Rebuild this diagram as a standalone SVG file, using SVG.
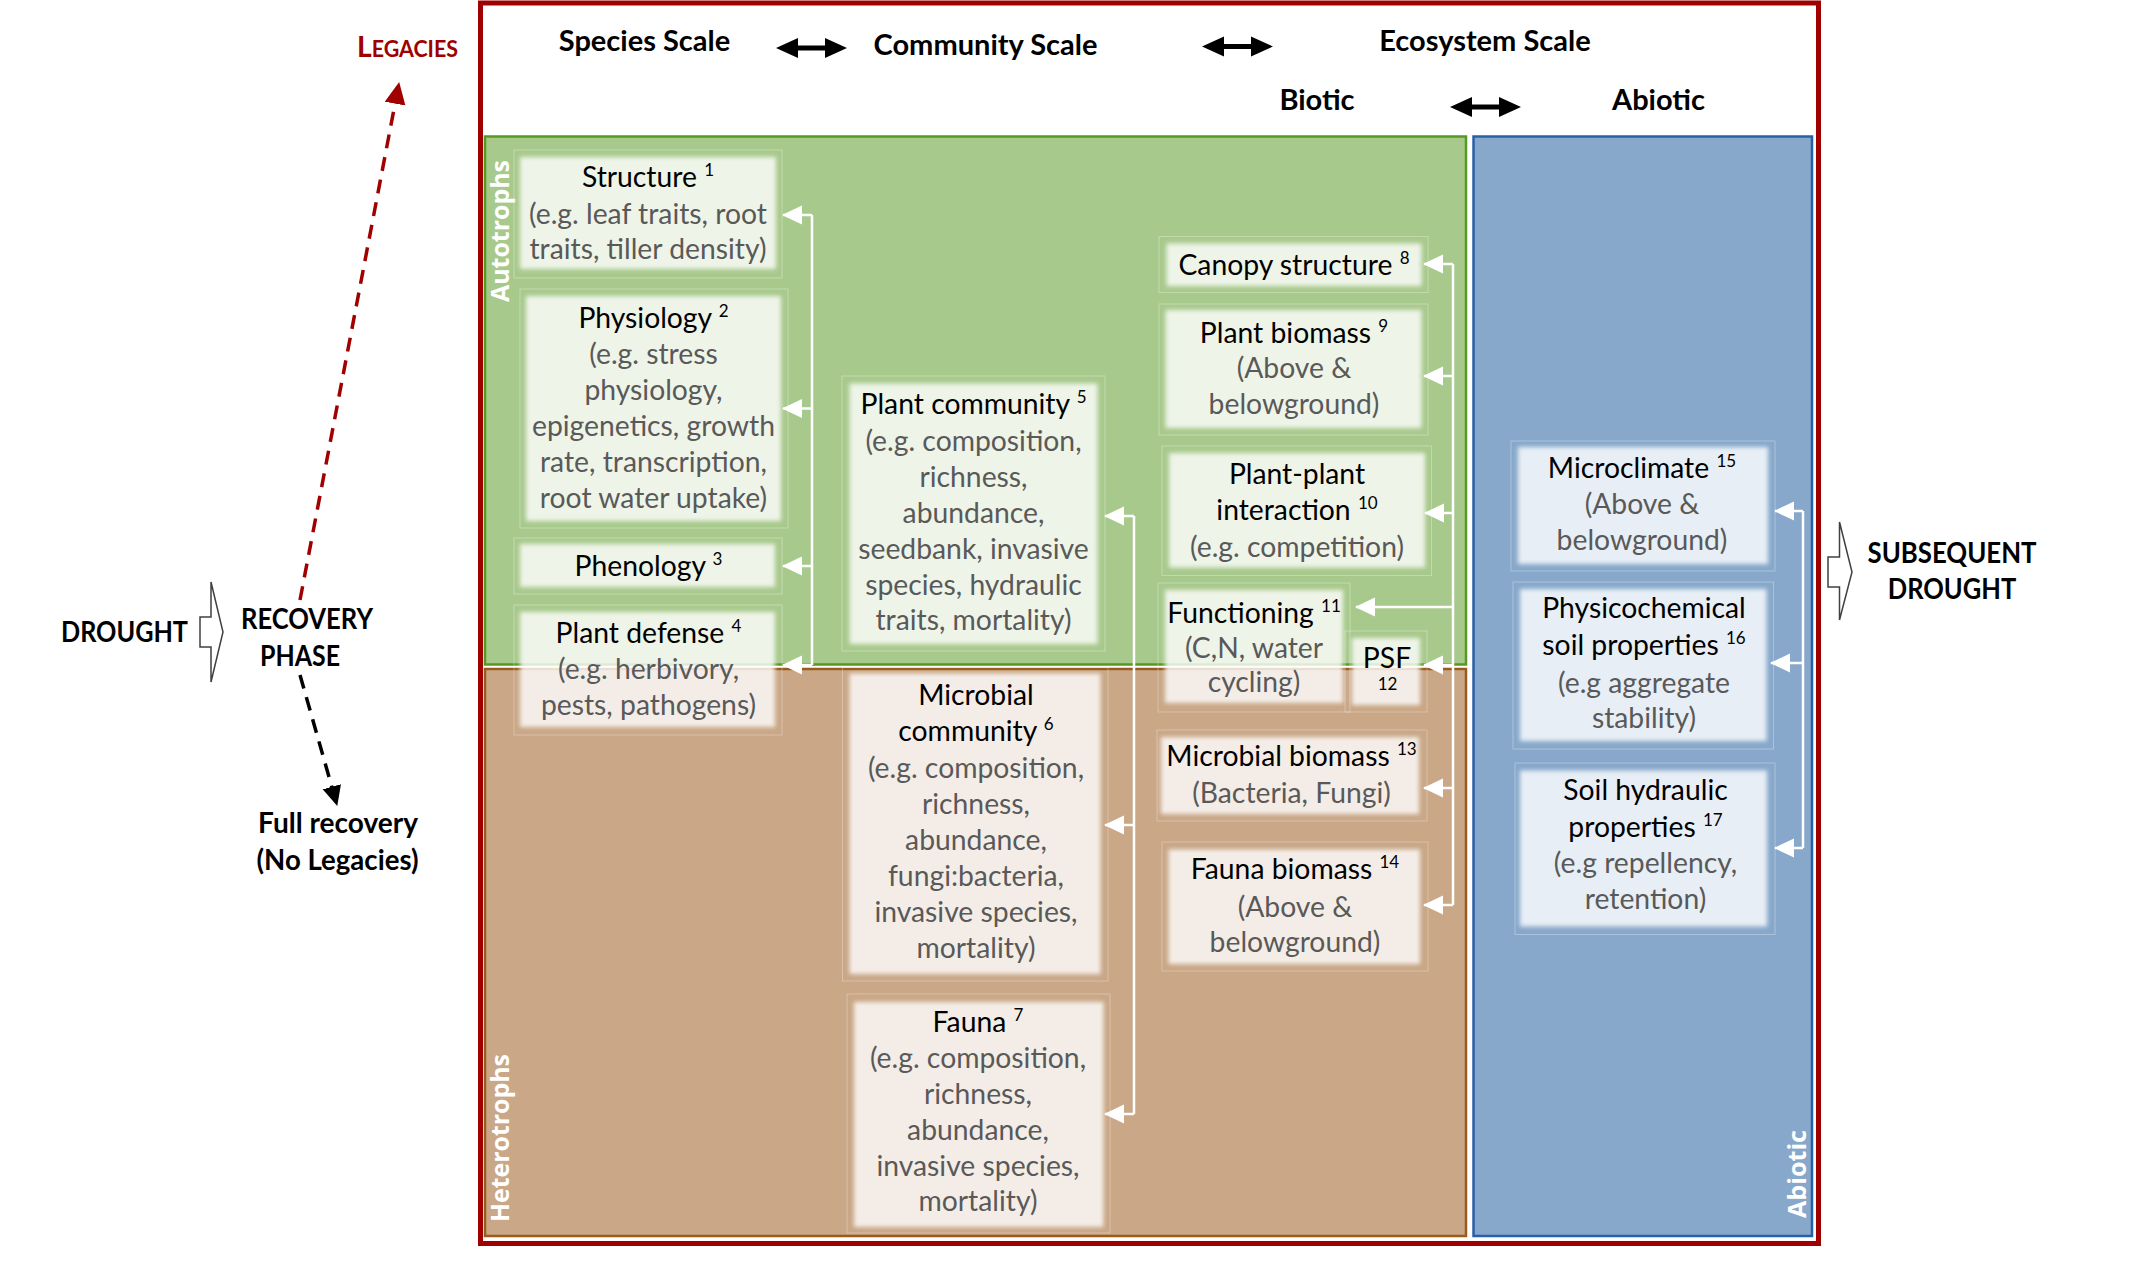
<svg xmlns="http://www.w3.org/2000/svg" width="2146" height="1265" viewBox="0 0 2146 1265">
<style>
text{font-family:Lato,"Liberation Sans",sans-serif;}
.t{font-size:28.3px;text-anchor:middle;fill:#000;}
.g{fill:#595959;}
.sup{font-size:17px;fill:#000;}
.b{font-weight:700;font-size:29px;fill:#000;}
.m{text-anchor:middle;}
.side{font-family:"Open Sans","DejaVu Sans",sans-serif;font-weight:700;font-size:25px;fill:#fff;text-anchor:middle;}
.box{fill:#fff;fill-opacity:0.8;filter:url(#soft);}
.frame{fill:none;stroke:#fff;stroke-opacity:0.3;stroke-width:1;}
.conn{fill:none;stroke:#fff;stroke-width:2.5;}
.arr{fill:none;stroke:#fff;stroke-width:2.5;marker-end:url(#ah);}
.blk{fill:#fff;stroke:#404040;stroke-width:1.5;}
.dbl{fill:#000;}
</style>
<defs>
<filter id="soft" x="-20%" y="-20%" width="140%" height="140%"><feGaussianBlur stdDeviation="2.2"/></filter>
<marker id="ah" markerUnits="userSpaceOnUse" markerWidth="20" markerHeight="20" viewBox="0 0 20 20" refX="19" refY="10" orient="auto"><path d="M0,0.5 L20,10 L0,19.5 z" fill="#fff"/></marker>
<marker id="ahRed" markerUnits="userSpaceOnUse" markerWidth="22" markerHeight="22" viewBox="0 0 22 22" refX="21" refY="11" orient="auto"><path d="M0,0.5 L22,11 L0,21.5 z" fill="#A00000"/></marker>
<marker id="ahBlk" markerUnits="userSpaceOnUse" markerWidth="20" markerHeight="20" viewBox="0 0 20 20" refX="19" refY="10" orient="auto"><path d="M0,0.5 L20,10 L0,19.5 z" fill="#000"/></marker>
</defs>
<rect width="2146" height="1265" fill="#fff"/>

<g id="frame">
<rect x="480.5" y="3" width="1338" height="1240.5" fill="#fff" stroke="#A00000" stroke-width="5"/>
<rect x="485" y="136.5" width="981" height="528" fill="#A8C98C" stroke="#559A1E" stroke-width="2.5"/>
<rect x="485" y="669" width="981" height="567" fill="#C9A787" stroke="#9A5B1C" stroke-width="2.5"/>
<rect x="1473.5" y="136.5" width="338.5" height="1099.5" fill="#87A8CB" stroke="#2860A8" stroke-width="2.5"/>
<text class="side" textLength="142" lengthAdjust="spacingAndGlyphs" transform="translate(509,231) rotate(-90)">Autotrophs</text>
<text class="side" textLength="168" lengthAdjust="spacingAndGlyphs" transform="translate(509,1138) rotate(-90)">Heterotrophs</text>
<text class="side" textLength="88" lengthAdjust="spacingAndGlyphs" transform="translate(1806,1174) rotate(-90)">Abiotic</text>
</g>

<g id="header">
<text class="b m" x="644.5" y="51">Species Scale</text>
<text class="b m" x="985.5" y="55">Community Scale</text>
<text class="b m" x="1485" y="51">Ecosystem Scale</text>
<text class="b m" x="1317" y="110">Biotic</text>
<text class="b m" x="1658.5" y="110">Abiotic</text>
<polygon class="dbl" points="776,48 798,38 798,45.5 825,45.5 825,38 847,48 825,58 825,50.5 798,50.5 798,58"/>
<polygon class="dbl" points="1202,46.5 1224,36.5 1224,44 1251,44 1251,36.5 1273,46.5 1251,56.5 1251,49 1224,49 1224,56.5"/>
<polygon class="dbl" points="1450,107 1472,97 1472,104.5 1499,104.5 1499,97 1521,107 1499,117 1499,109.5 1472,109.5 1472,117"/>
</g>

<g id="phase">
<text x="357" y="57" font-weight="700" fill="#A00000" textLength="101" lengthAdjust="spacingAndGlyphs"><tspan font-size="29">L</tspan><tspan font-size="22">EGACIES</tspan></text>
<text class="b m" x="124.5" y="641.5" textLength="127" lengthAdjust="spacingAndGlyphs">DROUGHT</text>
<polygon class="blk" points="200,617 211,617 211,582 223,632 211,682 211,647 200,647"/>
<text class="b m" x="307" y="629" textLength="132" lengthAdjust="spacingAndGlyphs">RECOVERY</text>
<text class="b m" x="300" y="666" textLength="80" lengthAdjust="spacingAndGlyphs">PHASE</text>
<text class="b m" x="338" y="833" textLength="160" lengthAdjust="spacingAndGlyphs">Full recovery</text>
<text class="b m" x="337.5" y="870" textLength="162" lengthAdjust="spacingAndGlyphs">(No Legacies)</text>
<polygon class="blk" points="1828,557 1839.5,557 1839.5,522 1852,572 1839.5,620 1839.5,587 1828,587"/>
<text class="b m" x="1952" y="562.5" textLength="169" lengthAdjust="spacingAndGlyphs">SUBSEQUENT</text>
<text class="b m" x="1952" y="599" textLength="128.5" lengthAdjust="spacingAndGlyphs">DROUGHT</text>
</g>

<g id="n1">
<rect class="frame" x="514" y="150" width="268" height="128"/>
<rect class="box" x="520" y="157" width="256" height="112"/>
<text class="t" x="648" y="187">Structure <tspan class="sup" dy="-11">1</tspan></text>
<text class="t g" x="648" y="223.5">(e.g. leaf traits, root</text>
<text class="t g" x="648" y="259">traits, tiller density)</text>
</g>
<g id="n2">
<rect class="frame" x="520" y="289" width="268" height="239"/>
<rect class="box" x="526" y="296" width="255" height="225"/>
<text class="t" x="653.5" y="328">Physiology <tspan class="sup" dy="-11">2</tspan></text>
<text class="t g" x="653.5" y="364">(e.g. stress</text>
<text class="t g" x="653.5" y="400">physiology,</text>
<text class="t g" x="653.5" y="436">epigenetics, growth</text>
<text class="t g" x="653.5" y="472">rate, transcription,</text>
<text class="t g" x="653.5" y="508">root water uptake)</text>
</g>
<g id="n3">
<rect class="frame" x="514" y="538" width="268" height="56"/>
<rect class="box" x="520" y="544" width="255" height="43"/>
<text class="t" x="648.5" y="576">Phenology <tspan class="sup" dy="-11">3</tspan></text>
</g>
<g id="n4">
<rect class="frame" x="514" y="605" width="268" height="130"/>
<rect class="box" x="520" y="612" width="255" height="115"/>
<text class="t" x="648.5" y="642.5">Plant defense <tspan class="sup" dy="-11">4</tspan></text>
<text class="t g" x="648.5" y="679">(e.g. herbivory,</text>
<text class="t g" x="648.5" y="715">pests, pathogens)</text>
</g>
<g id="n5">
<rect class="frame" x="842" y="376" width="263" height="275"/>
<rect class="box" x="849.5" y="383.5" width="248" height="260.5"/>
<text class="t" x="973.5" y="414">Plant community <tspan class="sup" dy="-11">5</tspan></text>
<text class="t g" x="973.5" y="450.5">(e.g. composition,</text>
<text class="t g" x="973.5" y="486.5">richness,</text>
<text class="t g" x="973.5" y="522.5">abundance,</text>
<text class="t g" x="973.5" y="558.5">seedbank, invasive</text>
<text class="t g" x="973.5" y="594.5">species, hydraulic</text>
<text class="t g" x="973.5" y="630">traits, mortality)</text>
</g>
<g id="n6">
<rect class="frame" x="842.5" y="667.5" width="265.5" height="313.5"/>
<rect class="box" x="849.5" y="673.5" width="251" height="300.5"/>
<text class="t" x="976" y="705">Microbial</text>
<text class="t" x="976" y="741">community <tspan class="sup" dy="-11">6</tspan></text>
<text class="t g" x="976" y="778">(e.g. composition,</text>
<text class="t g" x="976" y="814">richness,</text>
<text class="t g" x="976" y="850">abundance,</text>
<text class="t g" x="976" y="886">fungi:bacteria,</text>
<text class="t g" x="976" y="922">invasive species,</text>
<text class="t g" x="976" y="958">mortality)</text>
</g>
<g id="n7">
<rect class="frame" x="847" y="994" width="263" height="239"/>
<rect class="box" x="854" y="1002" width="249.5" height="225"/>
<text class="t" x="978" y="1031.5">Fauna <tspan class="sup" dy="-11">7</tspan></text>
<text class="t g" x="978" y="1068">(e.g. composition,</text>
<text class="t g" x="978" y="1104">richness,</text>
<text class="t g" x="978" y="1140">abundance,</text>
<text class="t g" x="978" y="1176">invasive species,</text>
<text class="t g" x="978" y="1211">mortality)</text>
</g>
<g id="n8">
<rect class="frame" x="1159" y="236.5" width="269" height="56"/>
<rect class="box" x="1166.5" y="243.5" width="255" height="42.5"/>
<text class="t" x="1294" y="274.5">Canopy structure <tspan class="sup" dy="-11">8</tspan></text>
</g>
<g id="n9">
<rect class="frame" x="1159" y="304" width="269" height="131"/>
<rect class="box" x="1165.5" y="310" width="256" height="118"/>
<text class="t" x="1294" y="342.5">Plant biomass <tspan class="sup" dy="-11">9</tspan></text>
<text class="t g" x="1294" y="378">(Above &amp;</text>
<text class="t g" x="1294" y="414">belowground)</text>
</g>
<g id="n10">
<rect class="frame" x="1162" y="446" width="269.5" height="129.5"/>
<rect class="box" x="1169" y="453" width="256" height="114.5"/>
<text class="t" x="1297" y="483.5">Plant-plant</text>
<text class="t" x="1297" y="520">interaction <tspan class="sup" dy="-11">10</tspan></text>
<text class="t g" x="1297" y="556.5">(e.g. competition)</text>
</g>
<g id="n11">
<rect class="frame" x="1158" y="583" width="192" height="129"/>
<rect class="box" x="1165" y="590" width="178" height="113"/>
<text class="t" x="1254" y="623">Functioning <tspan class="sup" dy="-11">11</tspan></text>
<text class="t g" x="1254" y="658">(C,N, water</text>
<text class="t g" x="1254" y="692">cycling)</text>
</g>
<g id="n12">
<rect class="frame" x="1345" y="631" width="82" height="81"/>
<rect class="box" x="1352" y="638" width="68" height="67"/>
<text class="t" x="1387" y="668">PSF</text>
<text class="t sup" x="1387.5" y="690">12</text>
</g>
<g id="n13">
<rect class="frame" x="1157" y="730" width="270" height="91"/>
<rect class="box" x="1161" y="737" width="258" height="77"/>
<text class="t" x="1291.5" y="765.5">Microbial biomass <tspan class="sup" dy="-11">13</tspan></text>
<text class="t g" x="1291.5" y="803">(Bacteria, Fungi)</text>
</g>
<g id="n14">
<rect class="frame" x="1162" y="842" width="266" height="129"/>
<rect class="box" x="1168.5" y="849.5" width="251.5" height="114.5"/>
<text class="t" x="1295" y="879">Fauna biomass <tspan class="sup" dy="-11">14</tspan></text>
<text class="t g" x="1295" y="916.5">(Above &amp;</text>
<text class="t g" x="1295" y="952">belowground)</text>
</g>
<g id="n15">
<rect class="frame" x="1511" y="441" width="264" height="130"/>
<rect class="box" x="1518" y="447" width="250" height="117"/>
<text class="t" x="1642" y="478">Microclimate <tspan class="sup" dy="-11">15</tspan></text>
<text class="t g" x="1642" y="514">(Above &amp;</text>
<text class="t g" x="1642" y="549.5">belowground)</text>
</g>
<g id="n16">
<rect class="frame" x="1513" y="582" width="260.5" height="167"/>
<rect class="box" x="1520" y="589" width="246.5" height="152"/>
<text class="t" x="1644" y="618">Physicochemical</text>
<text class="t" x="1644" y="655">soil properties <tspan class="sup" dy="-11">16</tspan></text>
<text class="t g" x="1644" y="693">(e.g aggregate</text>
<text class="t g" x="1644" y="728">stability)</text>
</g>
<g id="n17">
<rect class="frame" x="1515" y="763" width="260" height="171.5"/>
<rect class="box" x="1520" y="770.5" width="247" height="156"/>
<text class="t" x="1645.5" y="800">Soil hydraulic</text>
<text class="t" x="1645.5" y="836.5">properties <tspan class="sup" dy="-11">17</tspan></text>
<text class="t g" x="1645.5" y="873">(e.g repellency,</text>
<text class="t g" x="1645.5" y="909">retention)</text>
</g>

<g id="connectors">
<path class="conn" d="M812,215 V665"/>
<path class="arr" d="M812,215 H783"/>
<path class="arr" d="M812,408.5 H783"/>
<path class="arr" d="M812,566 H783"/>
<path class="arr" d="M812,665 H783"/>
<path class="conn" d="M1134,516 V1114"/>
<path class="arr" d="M1134,516 H1105"/>
<path class="arr" d="M1134,825 H1105"/>
<path class="arr" d="M1134,1114 H1105"/>
<path class="conn" d="M1453,264 V905"/>
<path class="arr" d="M1453,264 H1424"/>
<path class="arr" d="M1453,376 H1424"/>
<path class="arr" d="M1453,513 H1425"/>
<path class="arr" d="M1453,607 H1356"/>
<path class="arr" d="M1453,665 H1424"/>
<path class="arr" d="M1453,788 H1424"/>
<path class="arr" d="M1453,905 H1424"/>
<path class="conn" d="M1803,511 V848"/>
<path class="arr" d="M1803,511 H1775"/>
<path class="arr" d="M1803,663 H1771"/>
<path class="arr" d="M1803,848 H1775"/>
<path fill="none" stroke="#A00000" stroke-width="3.5" stroke-dasharray="14 9" marker-end="url(#ahRed)" d="M300,600 L399,83"/>
<path fill="none" stroke="#000" stroke-width="3.5" stroke-dasharray="14 9" marker-end="url(#ahBlk)" d="M300,675 L337,805"/>
</g>
</svg>
